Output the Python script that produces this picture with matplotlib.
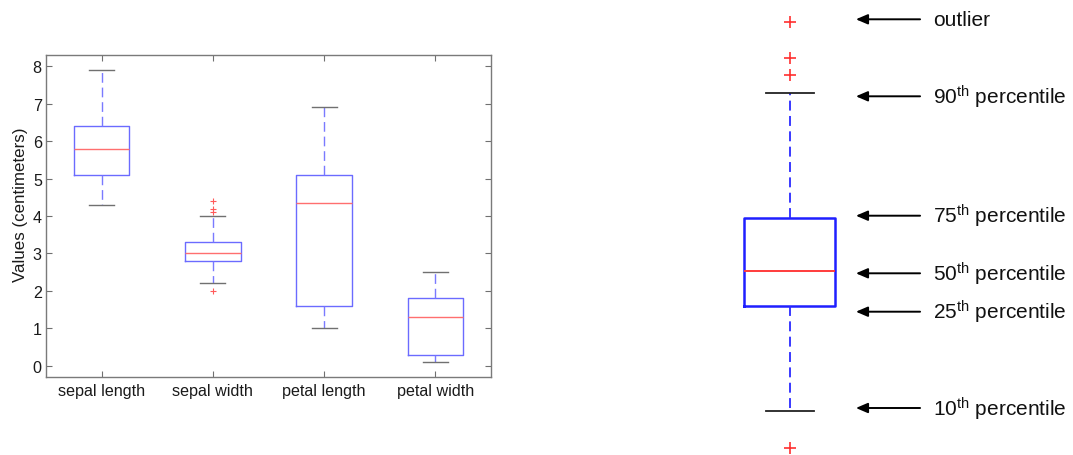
import matplotlib
matplotlib.use("Agg")
import matplotlib.pyplot as plt

plt.rcParams['font.family'] = ['Liberation Sans', 'DejaVu Sans']
plt.rcParams['mathtext.fontset'] = 'custom'
plt.rcParams['mathtext.rm'] = 'Liberation Sans'
plt.rcParams['mathtext.it'] = 'Liberation Sans:italic'
plt.rcParams['mathtext.bf'] = 'Liberation Sans:bold'

# ---------------- data (left chart: iris measurements) ----------------
categories = ['sepal length', 'sepal width', 'petal length', 'petal width']
whisker_low = [4.3, 2.2, 1.0, 0.1]
q1_vals = [5.1, 2.8, 1.6, 0.3]
median_vals = [5.8, 3.0, 4.35, 1.3]
q3_vals = [6.4, 3.3, 5.1, 1.8]
whisker_high = [7.9, 4.0, 6.9, 2.5]
outlier_vals = [[], [4.4, 4.2, 4.1, 2.0], [], []]
y_ticks = [0, 1, 2, 3, 4, 5, 6, 7, 8]
y_label = 'Values (centimeters)'

# ---------------- data (right diagram: annotated box) ----------------
diag_whislo = 4.37
diag_q1 = 14.93
diag_med = 18.43
diag_q3 = 23.73
diag_whishi = 36.17
diag_outliers = [43.27, 39.7, 37.97, 0.7]
diag_labels = ['outlier', r'90$^{\mathrm{th}}$ percentile', r'75$^{\mathrm{th}}$ percentile',
               r'50$^{\mathrm{th}}$ percentile', r'25$^{\mathrm{th}}$ percentile',
               r'10$^{\mathrm{th}}$ percentile']
diag_label_levels = [43.57, 35.87, 23.93, 18.17, 14.33, 4.7]

W, H = 1073, 456
fig = plt.figure(figsize=(W / 100, H / 100), dpi=100)

# ---------------- left chart ----------------
ax = fig.add_axes([46 / W, 1 - 378 / H, 445 / W, 322 / H])
stats = []
for i, name in enumerate(categories):
    stats.append(dict(label=name, whislo=whisker_low[i], q1=q1_vals[i], med=median_vals[i],
                      q3=q3_vals[i], whishi=whisker_high[i], fliers=outlier_vals[i]))
ax.bxp(stats, positions=range(1, len(categories) + 1), widths=0.5, capwidths=0.225,
       boxprops=dict(color='#6b6bff', linewidth=1.0),
       medianprops=dict(color='#ff6f6f', linewidth=1.0),
       whiskerprops=dict(color='#7a7aff', linewidth=1.0, linestyle=(0, (7, 3.5))),
       capprops=dict(color='#707070', linewidth=1.0),
       flierprops=dict(marker='+', markeredgecolor='#ff5a5a', markersize=4.5,
                       markeredgewidth=0.8, linestyle='none'))
ax.set_xlim(0.5, 4.5)
ax.set_ylim(-0.3, 8.3)
ax.set_yticks(y_ticks)
ax.set_yticklabels([str(v) for v in y_ticks])
ax.set_xticks(range(1, len(categories) + 1))
ax.set_xticklabels(categories)
ax.tick_params(direction='in', length=4, width=0.8, color='#707070', top=True, right=True,
               labelsize=11.6, labelcolor='#1a1a1a')
ax.tick_params(axis='x', pad=4)
ax.tick_params(axis='y', pad=3)
for s in ax.spines.values():
    s.set_color('#7a7a7a')
    s.set_linewidth(1.0)
ax.set_ylabel(y_label, fontsize=12.2, color='#1a1a1a')
ax.yaxis.set_label_coords(-0.041, 0.537)

# ---------------- right diagram ----------------
ax2 = fig.add_axes([700 / W, 0, 373 / W, 1])
ax2.set_xlim(0, 1)
ax2.set_ylim(0, 45.6)
ax2.axis('off')
dstat = [dict(whislo=diag_whislo, q1=diag_q1, med=diag_med, q3=diag_q3,
              whishi=diag_whishi, fliers=diag_outliers)]
ax2.bxp(dstat, positions=[0.24], widths=0.244, capwidths=0.1287,
        boxprops=dict(color='#1f1fff', linewidth=1.8),
        medianprops=dict(color='#ff3b3b', linewidth=1.4),
        whiskerprops=dict(color='#2a2aff', linewidth=1.3, linestyle=(0, (5.5, 3))),
        capprops=dict(color='#222222', linewidth=1.3),
        flierprops=dict(marker='+', markeredgecolor='#ff3030', markersize=8,
                        markeredgewidth=1.2, linestyle='none'))
for lab, lev in zip(diag_labels, diag_label_levels):
    ax2.annotate('', xy=(0.418, lev), xytext=(0.59, lev),
                 arrowprops=dict(arrowstyle='-|>,head_length=0.7,head_width=0.3',
                                 color='black', linewidth=1.4, shrinkA=0, shrinkB=0))
    ax2.text(0.6247, lev, lab, fontsize=15, va='center', ha='left', color='#111111')

fig.savefig('out.png', dpi=100)
